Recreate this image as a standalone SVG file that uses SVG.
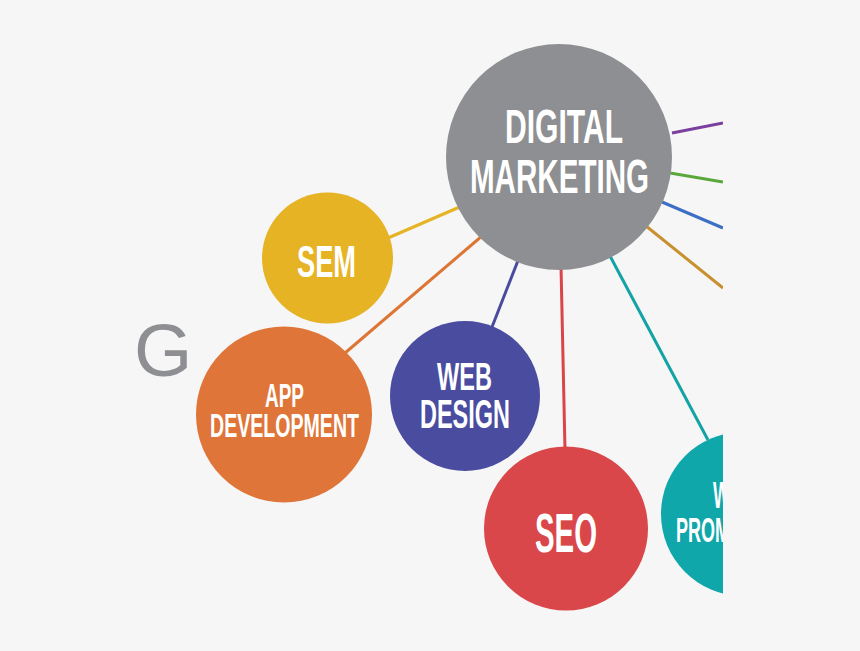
<svg xmlns="http://www.w3.org/2000/svg" width="860" height="651" viewBox="0 0 860 651">
  <defs>
    <clipPath id="cut">
      <rect x="0" y="0" width="723" height="651"/>
    </clipPath>
    <style>
      .lbl { font-family: "Liberation Sans", Arial, sans-serif; font-weight: bold; fill: #ffffff; text-anchor: middle; }
      .edge { fill: none; stroke-width: 3; stroke-linecap: butt; }
    </style>
  </defs>
  <rect x="0" y="0" width="860" height="651" fill="#f6f6f6"/>
  <text x="134" y="376" font-family="Liberation Sans, Arial, sans-serif" font-size="75" fill="#8e8f92">G</text>
  <g clip-path="url(#cut)">
    <g id="connectors">
      <line class="edge" x1="672" y1="133" x2="723" y2="123" stroke="#7b3f9e"/>
      <line class="edge" x1="670" y1="173" x2="723" y2="182" stroke="#5aa83c"/>
      <line class="edge" x1="662" y1="202" x2="723" y2="228" stroke="#3d6fc4"/>
      <line class="edge" x1="646" y1="226" x2="723" y2="288" stroke="#c8902e"/>
      <line class="edge" x1="610" y1="256" x2="708" y2="440" stroke="#13a3a6"/>
      <line class="edge" x1="561" y1="266" x2="565" y2="450" stroke="#d9464a"/>
      <line class="edge" x1="519" y1="258" x2="492" y2="327" stroke="#4a4a9e"/>
      <line class="edge" x1="482" y1="236" x2="345" y2="353" stroke="#dd7535"/>
      <line class="edge" x1="462" y1="206" x2="388" y2="238" stroke="#e6b325"/>
    </g>
    <g id="digital-marketing">
      <circle cx="559" cy="157" r="113" fill="#8e8f92"/>
      <text class="lbl" x="564" y="143" font-size="47.5" textLength="118" lengthAdjust="spacingAndGlyphs">DIGITAL</text>
      <text class="lbl" x="559.5" y="193" font-size="49" textLength="179" lengthAdjust="spacingAndGlyphs">MARKETING</text>
    </g>
    <g id="sem">
      <circle cx="327.5" cy="258" r="65.5" fill="#e6b325"/>
      <text class="lbl" x="326.5" y="277" font-size="44.7" textLength="59" lengthAdjust="spacingAndGlyphs">SEM</text>
    </g>
    <g id="app-development">
      <circle cx="284" cy="414.5" r="88" fill="#df7538"/>
      <text class="lbl" x="284.5" y="407" font-size="33.5" textLength="39" lengthAdjust="spacingAndGlyphs">APP</text>
      <text class="lbl" x="284.5" y="437" font-size="33.5" textLength="149" lengthAdjust="spacingAndGlyphs">DEVELOPMENT</text>
    </g>
    <g id="web-design">
      <circle cx="465" cy="396" r="75" fill="#494c9f"/>
      <text class="lbl" x="464.5" y="390" font-size="39" textLength="55" lengthAdjust="spacingAndGlyphs">WEB</text>
      <text class="lbl" x="465" y="428" font-size="41" textLength="90" lengthAdjust="spacingAndGlyphs">DESIGN</text>
    </g>
    <g id="seo">
      <circle cx="566" cy="528.5" r="82" fill="#d9474a"/>
      <text class="lbl" x="566" y="552" font-size="56" textLength="62" lengthAdjust="spacingAndGlyphs">SEO</text>
    </g>
    <g id="web-promotion">
      <circle cx="743" cy="514" r="82" fill="#0fa7a9"/>
      <text class="lbl" x="713" y="508" font-size="36" textLength="17" lengthAdjust="spacingAndGlyphs" style="text-anchor:start">W</text>
      <text class="lbl" x="676" y="542" font-size="35" textLength="54" lengthAdjust="spacingAndGlyphs" style="text-anchor:start">PROM</text>
    </g>
  </g>
</svg>
